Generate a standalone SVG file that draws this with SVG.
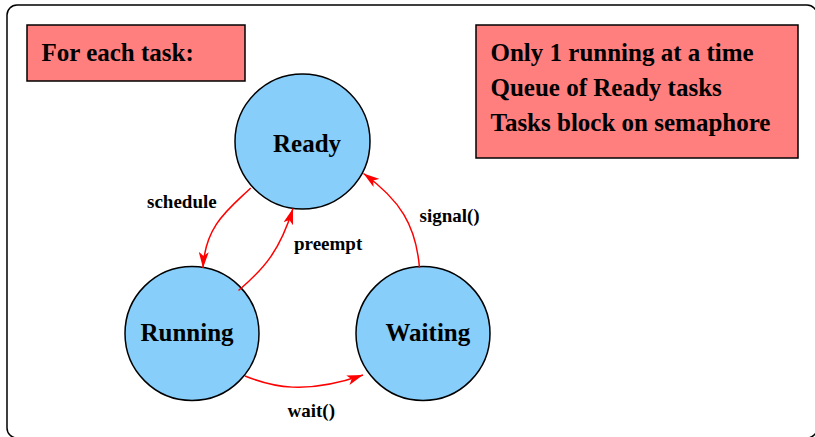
<svg xmlns="http://www.w3.org/2000/svg" width="815" height="437" viewBox="0 0 815 437">
<style>
.frame{fill:#fff;stroke:#000;stroke-width:1.5}
.box{fill:#ff7f7f;stroke:#000;stroke-width:1.5}
.node{fill:#87cefa;stroke:#000;stroke-width:1.5}
.t{font-family:"Liberation Serif","Times New Roman",serif;font-weight:bold;fill:#000}
.big{font-size:25px}
.lbl{font-size:19px}
.edge{fill:none;stroke:#ff0000;stroke-width:1.5}
</style>
<defs>
<marker id="arr" markerUnits="userSpaceOnUse" viewBox="0 0 16 10" refX="16" refY="5" markerWidth="16" markerHeight="10" orient="auto">
<path d="M0,0 L16,5 L0,10 L4,5 z" fill="#ff0000"/>
</marker>
</defs>
<rect class="frame" x="7" y="5" width="810" height="433" rx="10"/>
<g id="note-left">
<rect class="box" x="27" y="25" width="218" height="56"/>
<text class="t big" x="41.5" y="61">For each task:</text>
</g>
<g id="note-right">
<rect class="box" x="476" y="25" width="322" height="133"/>
<text class="t big" x="490.5" y="61">Only 1 running at a time</text>
<text class="t big" x="490.5" y="96">Queue of Ready tasks</text>
<text class="t big" x="490.5" y="131">Tasks block on semaphore</text>
</g>
<g id="ready">
<circle class="node" cx="302.5" cy="141.5" r="67.5"/>
<text class="t big" x="273" y="152">Ready</text>
</g>
<g id="running">
<circle class="node" cx="192" cy="333.5" r="67"/>
<text class="t big" x="140.5" y="341">Running</text>
</g>
<g id="waiting">
<circle class="node" cx="423" cy="333.5" r="67"/>
<text class="t big" x="385.5" y="341">Waiting</text>
</g>
<g id="connectors">
<path class="edge" d="M250.7,188 C230,208 205,225 203,268" marker-end="url(#arr)"/>
<path class="edge" d="M238.5,290.5 C265,268 280,250 293,208.5" marker-end="url(#arr)"/>
<path class="edge" d="M419.5,268 C416,225 400,200 363.5,173.5" marker-end="url(#arr)"/>
<path class="edge" d="M245,376 C272,387 305,395 363,375" marker-end="url(#arr)"/>
<text class="t lbl" x="147" y="207.5">schedule</text>
<text class="t lbl" x="294" y="250">preempt</text>
<text class="t lbl" x="419.5" y="221.5">signal()</text>
<text class="t lbl" x="287.5" y="417">wait()</text>
</g>
</svg>
